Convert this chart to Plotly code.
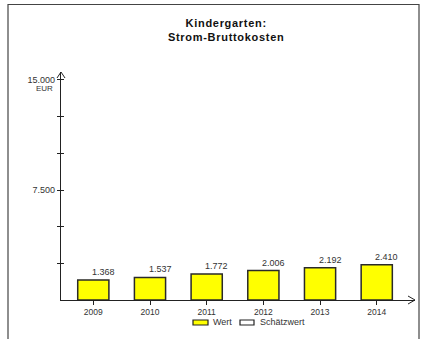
import plotly.graph_objects as go

years = [2009, 2010, 2011, 2012, 2013, 2014]
wert = [1368, 1537, 1772, 2006, 2192, 2410]
y_tickvals = [2500, 5000, 7500, 10000, 12500, 15000]
y_ticktext = ["", "", "7.500", "", "", "15.000"]
legend_labels = ["Wert", "Schätzwert"]

FONT = "Liberation Sans, Arial, sans-serif"
AX = "#222222"
TXT = "#333333"

def de(v):
    return f"{v:,}".replace(",", ".")

fig = go.Figure()
fig.add_trace(go.Bar(
    x=years, y=wert, width=0.55,
    marker=dict(color="#FFFF00", line=dict(color="#2a2a2a", width=1.5)),
    showlegend=False, hoverinfo="skip",
))
# invisible trace to activate overlay axis (ticks on inner side)
fig.add_trace(go.Scatter(x=[years[0]], y=[0], yaxis="y2", mode="markers",
                         marker=dict(opacity=0), showlegend=False, hoverinfo="skip"))

annotations = []
for yr, v in zip(years, wert):
    annotations.append(dict(x=yr, y=v, xref="x", yref="y", text=de(v), showarrow=False,
                            xshift=10, yshift=8, font=dict(family=FONT, size=9, color=TXT)))
annotations.append(dict(x=0, y=15000, xref="paper", yref="y", text="EUR", showarrow=False,
                        xanchor="center", xshift=-17, yshift=-9,
                        font=dict(family=FONT, size=8, color=TXT)))
# legend texts
annotations.append(dict(x=0, y=0, xref="paper", yref="paper", text=legend_labels[0], showarrow=False,
                        xanchor="left", yanchor="middle", xshift=150, yshift=-22,
                        font=dict(family=FONT, size=9, color=TXT)))
annotations.append(dict(x=0, y=0, xref="paper", yref="paper", text=legend_labels[1], showarrow=False,
                        xanchor="left", yanchor="middle", xshift=197, yshift=-22,
                        font=dict(family=FONT, size=9, color=TXT)))

shapes = [
    # outer frame
    dict(type="rect", xref="paper", yref="paper", xsizemode="pixel", ysizemode="pixel",
         xanchor=0, yanchor=1, x0=-53, x1=358, y0=67.5, y1=-320,
         line=dict(color="#444444", width=1.2), fillcolor="rgba(0,0,0,0)", layer="below"),
    # y-axis arrowhead
    dict(type="line", xref="paper", yref="paper", xsizemode="pixel", ysizemode="pixel",
         xanchor=0, yanchor=1, x0=-4, x1=0, y0=-6, y1=0, line=dict(color=AX, width=1)),
    dict(type="line", xref="paper", yref="paper", xsizemode="pixel", ysizemode="pixel",
         xanchor=0, yanchor=1, x0=4, x1=0, y0=-6, y1=0, line=dict(color=AX, width=1)),
    # x-axis arrowhead
    dict(type="line", xref="paper", yref="paper", xsizemode="pixel", ysizemode="pixel",
         xanchor=1, yanchor=0, x0=-7, x1=0, y0=4, y1=0, line=dict(color=AX, width=1)),
    dict(type="line", xref="paper", yref="paper", xsizemode="pixel", ysizemode="pixel",
         xanchor=1, yanchor=0, x0=-7, x1=0, y0=-4, y1=0, line=dict(color=AX, width=1)),
    # legend swatches
    dict(type="rect", xref="paper", yref="paper", xsizemode="pixel", ysizemode="pixel",
         xanchor=0, yanchor=0, x0=132, x1=147, y0=-20, y1=-25,
         line=dict(color="#222222", width=1.2), fillcolor="#FFFF00"),
    dict(type="rect", xref="paper", yref="paper", xsizemode="pixel", ysizemode="pixel",
         xanchor=0, yanchor=0, x0=179, x1=193, y0=-20, y1=-25,
         line=dict(color="#222222", width=1.2), fillcolor="#FFFFFF"),
]

yax = dict(range=[0, 15545], tickvals=y_tickvals, ticktext=y_ticktext,
           showgrid=False, zeroline=False, showline=True, linecolor=AX, linewidth=1.2,
           ticks="outside", ticklen=3, tickcolor=AX, tickwidth=1,
           tickfont=dict(family=FONT, size=9, color=TXT), fixedrange=True)

fig.update_layout(
    width=422, height=339,
    margin=dict(l=61, r=7, t=72, b=39, autoexpand=False),
    paper_bgcolor="white", plot_bgcolor="white",
    bargap=0.45,
    title=dict(text="<b>Kindergarten:<br>Strom-Bruttokosten</b>", xref="container", yref="container",
               x=0.536, xanchor="center", y=0.92, yanchor="top",
               font=dict(family=FONT, size=11, color="#111111")),
    xaxis=dict(range=[2008.43, 2014.675], tickvals=years, ticktext=[str(y) for y in years],
               showgrid=False, zeroline=False, showline=True, linecolor=AX, linewidth=1.2,
               ticks="outside", ticklen=4, tickcolor=AX, tickwidth=1,
               tickfont=dict(family=FONT, size=8.5, color=TXT), fixedrange=True),
    yaxis=yax,
    yaxis2=dict(overlaying="y", matches="y", range=[0, 15545], tickvals=y_tickvals,
                showticklabels=False, showgrid=False, zeroline=False, showline=False,
                ticks="inside", ticklen=3, tickcolor=AX, tickwidth=1, side="left"),
    annotations=annotations,
    shapes=shapes,
    showlegend=False,
)

post = ("document.body.style.margin='0';"
        "document.querySelectorAll('.gtitle').forEach(function(e){e.style.letterSpacing='0.7px';});")

fig.write_html("out.html", config=dict(displayModeBar=False), post_script=post)
